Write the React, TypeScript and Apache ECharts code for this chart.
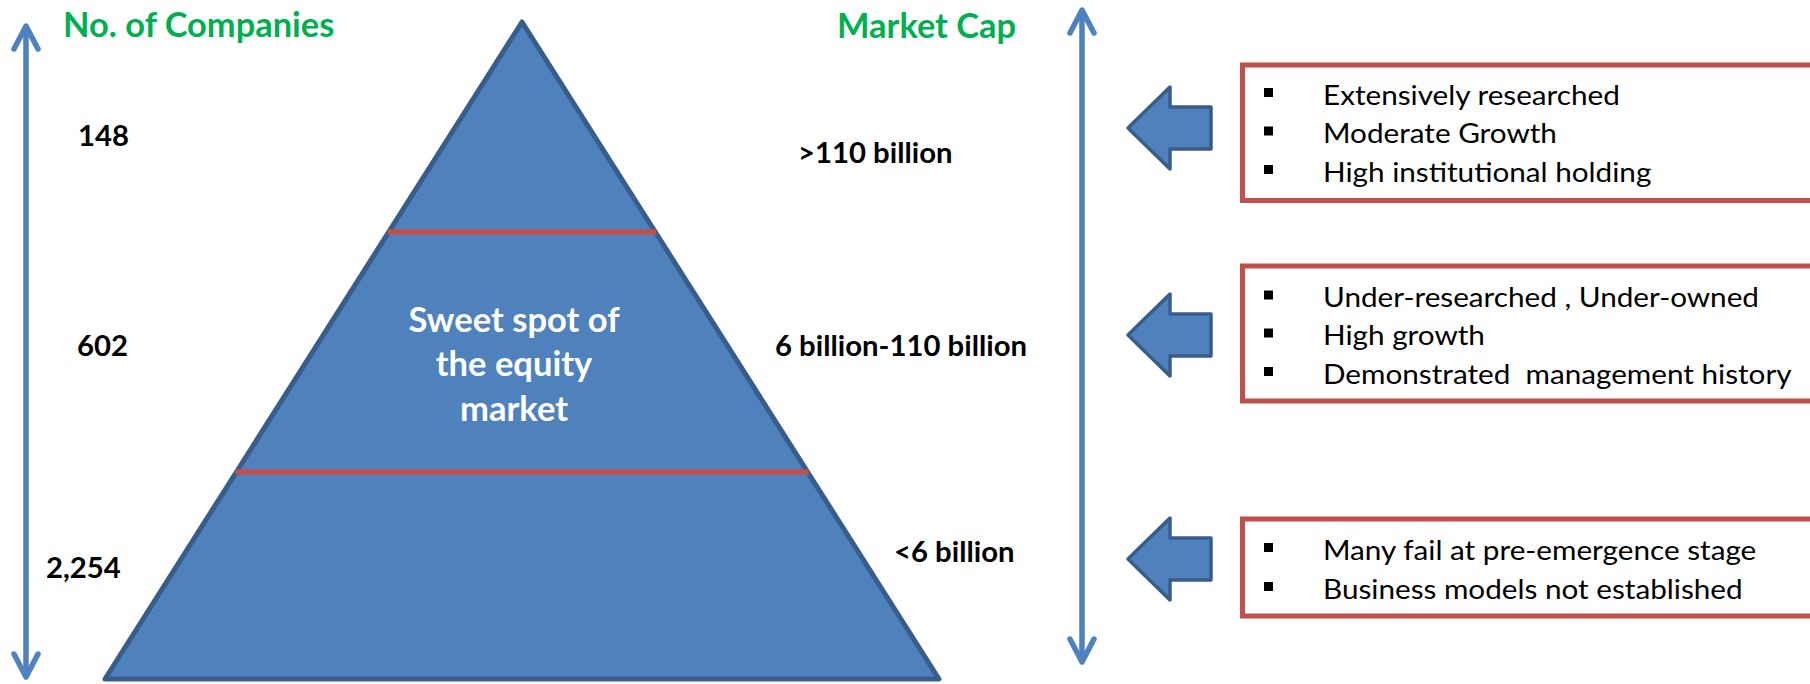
import React, { useEffect, useRef } from 'react';
import * as echarts from 'echarts';

// ---- content ----
const leftHeader = 'No. of Companies';
const rightHeader = 'Market Cap';
const companyCounts = ['148', '602', '2,254'];
const marketCaps = ['>110 billion', '6 billion-110 billion', '<6 billion'];
const sweetSpot = ['Sweet spot of', 'the equity', 'market'];
const tierTraits = [
  ['Extensively researched', 'Moderate Growth', 'High institutional holding'],
  ['Under-researched , Under-owned', 'High growth', 'Demonstrated  management history'],
  ['Many fail at pre-emergence stage', 'Business models not established'],
];

// ---- layout (pixels) ----
const countPos = [[78, 134], [77, 344], [46, 566]];
const capPos = [[798, 151], [775, 344], [894, 550]];
const sweetY = [318.5, 363, 408];
const boxes = [[65, 200.5], [266, 401], [519, 616]];
const boxLineY = [[94, 132.5, 171], [296.5, 334.5, 373], [549, 588]];
const arrowY = [128, 335, 559];

const BLUE = '#4F81BD';
const DARK = '#385D8A';
const RED = '#C0504D';
const GREEN = '#00B050';
const FONT = 'Lato';
const CAP = 0.7165;

export default function App() {
  const ref = useRef<HTMLDivElement>(null);
  useEffect(() => {
    document.body.style.margin = '0';
    const chart = echarts.init(ref.current!, null, { renderer: 'svg' });
    const canvas = document.createElement('canvas');
    const ctx = canvas.getContext('2d')!;
    const fit = (text: string, weight: string, capH: number, width: number) => {
      const size = capH / CAP;
      ctx.font = `${weight} ${size}px ${FONT}`;
      const w = ctx.measureText(text.replace(/\s+/g, ' ')).width;
      return { size, scaleX: width / w };
    };
    const hdr = fit(leftHeader, 'bold', 24, 272);
    const lbl = fit(marketCaps[1], 'bold', 21, 252);
    const sw = fit(sweetSpot[0], 'bold', 24.5, 211);
    const bul = fit(tierTraits[1][0], 'normal', 19.5, 436);

    const txt = (text: string, x: number, y: number, f: any, weight: string, fill: string, align = 'left') => ({
      type: 'text',
      x,
      y,
      scaleX: f.scaleX,
      style: {
        text,
        fontFamily: FONT,
        fontSize: f.size,
        fontWeight: weight,
        fill,
        textAlign: align,
        textVerticalAlign: 'middle',
        align,
        verticalAlign: 'middle',
      },
    });

    const els: any[] = [];

    // vertical double arrows
    const vArrow = (x: number, y1: number, y2: number) => {
      const st = { stroke: BLUE, lineWidth: 5.5, lineCap: 'round', lineJoin: 'round', fill: 'none' };
      els.push({ type: 'line', shape: { x1: x, y1: y1 + 2, x2: x, y2: y2 - 2 }, style: st });
      els.push({ type: 'polyline', shape: { points: [[x - 12, y1 + 24], [x, y1 + 1], [x + 12, y1 + 24]] }, style: st });
      els.push({ type: 'polyline', shape: { points: [[x - 12, y2 - 24], [x, y2 - 1], [x + 12, y2 - 24]] }, style: st });
    };
    vArrow(26, 25, 678);
    vArrow(1082, 9, 663);

    // pyramid
    const apex = [522, 22];
    const bl = [105, 679];
    const br = [939, 679];
    els.push({
      type: 'polygon',
      shape: { points: [apex, br, bl] },
      style: { fill: BLUE, stroke: DARK, lineWidth: 5, lineJoin: 'round' },
    });
    const edgeX = (y: number) => {
      const t = (y - apex[1]) / (bl[1] - apex[1]);
      return [apex[0] + (bl[0] - apex[0]) * t, apex[0] + (br[0] - apex[0]) * t];
    };
    [232, 472].forEach((y) => {
      const [l, r] = edgeX(y);
      els.push({ type: 'line', shape: { x1: l - 1, y1: y, x2: r + 1, y2: y }, style: { stroke: RED, lineWidth: 5.5 } });
    });

    // headers
    els.push(txt(leftHeader, 63, 24, hdr, 'bold', GREEN));
    els.push(txt(rightHeader, 837, 25, hdr, 'bold', GREEN));

    // labels
    companyCounts.forEach((t, i) => els.push(txt(t, countPos[i][0], countPos[i][1], lbl, 'bold', '#000')));
    marketCaps.forEach((t, i) => els.push(txt(t, capPos[i][0], capPos[i][1], lbl, 'bold', '#000')));
    sweetSpot.forEach((t, i) => els.push(txt(t, 514, sweetY[i], sw, 'bold', '#FFFFFF', 'center')));

    // block arrows
    arrowY.forEach((cy) => {
      els.push({
        type: 'polygon',
        shape: {
          points: [
            [1128, cy], [1170, cy - 41], [1170, cy - 21], [1211, cy - 21],
            [1211, cy + 21], [1170, cy + 21], [1170, cy + 41],
          ],
        },
        style: { fill: BLUE, stroke: DARK, lineWidth: 3.5, lineJoin: 'round' },
      });
    });

    // boxes
    boxes.forEach(([t, b], i) => {
      els.push({
        type: 'rect',
        shape: { x: 1242.5, y: t, width: 640, height: b - t },
        style: { fill: '#FFFFFF', stroke: RED, lineWidth: 5 },
      });
      tierTraits[i].forEach((line, j) => {
        const y = boxLineY[i][j];
        els.push({ type: 'rect', shape: { x: 1264, y: y - 6, width: 9, height: 9 }, style: { fill: '#000' } });
        els.push(txt(line, 1323, y, bul, 'normal', '#000'));
      });
    });

    chart.setOption({ animation: false, graphic: { elements: els } });
    return () => chart.dispose();
  }, []);
  return <div ref={ref} style={{ width: 1810, height: 684, background: '#fff' }} />;
}
